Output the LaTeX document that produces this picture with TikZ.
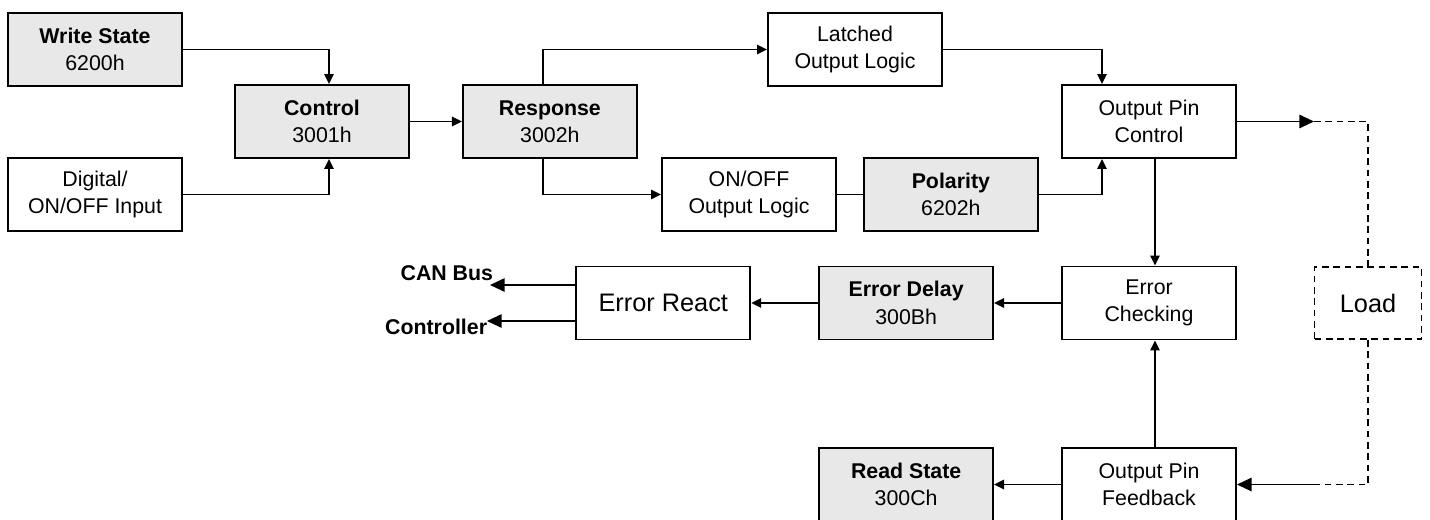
\documentclass[tikz,border=0pt]{standalone}
\usepackage{fontspec}
\setmainfont{Liberation Sans}
\usetikzlibrary{arrows.meta, positioning}
\definecolor{regfill}{RGB}{232,232,232}

\begin{document}
\begin{tikzpicture}[
        x=0.75pt, y=-0.75pt,
        line width=1.4pt,
        blk/.style={rectangle, draw=black, fill=white, minimum width=130.5pt, minimum height=54.75pt, inner sep=0pt, align=center, font=\fontsize{16}{20.5}\selectfont},
        reg/.style={blk, fill=regfill},
        bigtxt/.style={font=\fontsize{19}{23}\selectfont},
        lbl/.style={font=\fontsize{16}{19}\selectfont\bfseries, inner sep=0pt},
        arr/.style={-{Triangle[length=7.5pt,width=7pt]}},
        bigarr/.style={-{Triangle[length=11pt,width=10pt]}},
        ld/.style={dash pattern=on 5pt off 3.5pt}
    ]
        \useasboundingbox (0,0) rectangle (1430,519);

        % upper chain
        \node[reg] (write) at (95,49.5) {\textbf{Write State}\\6200h};
        \node[reg] (control) at (322,121.5) {\textbf{Control}\\3001h};
        \node[blk] (digital) at (95,194.5) {Digital/\\ON/OFF Input};
        \node[reg, right=39pt of control] (response) {\textbf{Response}\\3002h};
        \node[blk] (latched) at (855,49.5) {Latched\\Output Logic};
        \node[blk] (onoff) at (749,194.5) {ON/OFF\\Output Logic};
        \node[reg, right=19.5pt of onoff] (polarity) {\textbf{Polarity}\\6202h};
        \node[blk] (pinctrl) at (1149,121.5) {Output Pin\\Control};

        % error path
        \node[blk] (errchk) at (1149,303) {Error\\Checking};
        \node[reg, left=50.25pt of errchk] (errdelay) {\textbf{Error Delay}\\300Bh};
        \node[blk, bigtxt, left=50.25pt of errdelay] (errreact) {Error React};
        \node[blk, bigtxt, ld, minimum width=80.25pt, minimum height=54pt] (load) at (1368,303) {Load};

        % feedback
        \node[blk] (feedback) at (1149,484.5) {Output Pin\\Feedback};
        \node[reg, left=50.25pt of feedback] (readst) {\textbf{Read State}\\300Ch};

        \coordinate (canbus) at (490,285);
        \coordinate (ctrlr) at (487,321);
        \coordinate (loadin) at (1314,121.5);
        \coordinate (loadout) at (1317,484.5);
        \node[lbl, anchor=base east] (canlbl) at (494,280) {CAN Bus};
        \node[lbl, anchor=base east] (ctrllbl) at (488,334) {Controller};

        \draw[arr] (write.east) -| ([xshift=5.25pt]control.north);
        \draw[arr] (digital.east) -| ([xshift=5.25pt]control.south);
        \draw[arr] (control) -- (response);
        \draw[arr] ([xshift=-5pt]response.north) |- (latched.west);
        \draw[arr] ([xshift=-5pt]response.south) |- (onoff.west);
        \draw (onoff) -- (polarity);
        \draw[arr] (latched.east) -| ([xshift=-35.25pt]pinctrl.north);
        \draw[arr] (polarity.east) -| ([xshift=-35.25pt]pinctrl.south);
        \draw[arr] ([xshift=4.5pt]pinctrl.south) -- ([xshift=4.5pt]errchk.north);
        \draw[arr] (errchk) -- (errdelay);
        \draw[arr] (errdelay) -- (errreact);
        \draw[bigarr] (errreact.west |- canbus) -- (canbus);
        \draw[bigarr] (errreact.west |- ctrlr) -- (ctrlr);
        \draw[arr] ([xshift=4.5pt]feedback.north) -- ([xshift=4.5pt]errchk.south);
        \draw[arr] (feedback) -- (readst);

        % load loop
        \draw[bigarr] (pinctrl.east) -- (loadin);
        \draw[ld] (loadin) -| (load.north);
        \draw[ld] (load.south) |- (loadout);
        \draw[bigarr] (loadout) -- (feedback.east);
    \end{tikzpicture}
\end{document}
